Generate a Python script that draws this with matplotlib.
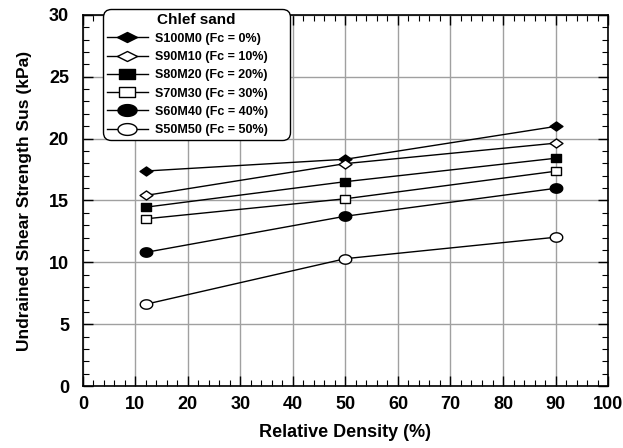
import matplotlib
matplotlib.use("Agg")
import matplotlib.pyplot as plt
import numpy as np
from matplotlib.ticker import MultipleLocator
from matplotlib.path import Path
from matplotlib.lines import Line2D

plt.rcParams['font.family'] = ['Liberation Sans', 'DejaVu Sans']
plt.rcParams['font.weight'] = 'bold'

x = [12, 50, 90]
labels = ["S100M0 (Fc = 0%)", "S90M10 (Fc = 10%)", "S80M20 (Fc = 20%)",
          "S70M30 (Fc = 30%)", "S60M40 (Fc = 40%)", "S50M50 (Fc = 50%)"]
s100m0 = [17.38, 18.33, 20.98]
s90m10 = [15.41, 17.98, 19.63]
s80m20 = [14.46, 16.52, 18.41]
s70m30 = [13.52, 15.14, 17.36]
s60m40 = [10.81, 13.73, 15.98]
s50m50 = [6.62, 10.30, 12.03]
series = [s100m0, s90m10, s80m20, s70m30, s60m40, s50m50]


def diamond(a):
    return Path([(-1, 0), (0, a), (1, 0), (0, -a), (-1, 0)],
                [Path.MOVETO, Path.LINETO, Path.LINETO, Path.LINETO, Path.CLOSEPOLY])


def square(a):
    return Path([(-1, -a), (1, -a), (1, a), (-1, a), (-1, -a)],
                [Path.MOVETO, Path.LINETO, Path.LINETO, Path.LINETO, Path.CLOSEPOLY])


def ellipse(a):
    t = np.linspace(0, 2 * np.pi, 60)
    return Path(np.column_stack([np.cos(t), a * np.sin(t)]))


# plot markers (horizontally stretched as in the source)
markers = [diamond(0.7), diamond(0.7), square(0.72), square(0.72), ellipse(0.75), ellipse(0.75)]
msizes = [9.3, 9.3, 7.9, 7.9, 9.0, 9.0]
# legend markers (larger, flatter)
lmarkers = [diamond(0.5), diamond(0.5), square(0.66), square(0.66), ellipse(0.62), ellipse(0.62)]
lsizes = [14.4, 14.4, 11.5, 11.5, 13.7, 13.7]
fills = ['black', 'white', 'black', 'white', 'black', 'white']

fig = plt.figure(figsize=(6.23, 4.48), dpi=100)
ax = fig.add_axes([0.133, 0.138, 0.843, 0.829])

for ys, lab, m, fc, ms in zip(series, labels, markers, fills, msizes):
    ax.plot(x, ys, color='black', lw=1, marker=m, markerfacecolor=fc,
            markeredgecolor='black', markeredgewidth=1, markersize=ms, label=lab, zorder=3)

ax.set_xlim(0, 100)
ax.set_ylim(0, 30)
ax.xaxis.set_major_locator(MultipleLocator(10))
ax.xaxis.set_minor_locator(MultipleLocator(2))
ax.yaxis.set_major_locator(MultipleLocator(5))
ax.yaxis.set_minor_locator(MultipleLocator(1))
ax.grid(True, which='major', color='#a0a0a0', lw=1, zorder=0)
ax.tick_params(which='both', direction='in', top=True, right=True, labelsize=13)
ax.tick_params(which='major', length=7, width=1)
ax.tick_params(which='minor', length=4, width=0.8)
ax.tick_params(axis='y', which='major', pad=10)
ax.tick_params(axis='x', which='major', pad=7)
for lbl in ax.get_xticklabels() + ax.get_yticklabels():
    lbl.set_fontweight('bold')
for sp in ax.spines.values():
    sp.set_linewidth(1.2)

ax.set_xlabel("Relative Density (%)", fontsize=13, fontweight='bold', labelpad=8)
ax.set_ylabel("Undrained Shear Strength Sus (kPa)", fontsize=12.5, fontweight='bold', labelpad=12)

handles = [Line2D([], [], color='black', lw=1, marker=m, markerfacecolor=fc,
                  markeredgecolor='black', markeredgewidth=1, markersize=ms)
           for m, fc, ms in zip(lmarkers, fills, lsizes)]
leg_w = (290 - 103) / 525.0
leg = ax.legend(handles, labels, loc='upper left',
                bbox_to_anchor=(0.038, 0.5, leg_w, 0.516), mode='expand', borderaxespad=0,
                title="Chlef sand",
                fontsize=9, title_fontproperties={'weight': 'bold', 'size': 11},
                frameon=True, fancybox=True, edgecolor='black', framealpha=1,
                handlelength=3.3, labelspacing=0.5, borderpad=0.3, handletextpad=0.6)
leg.get_frame().set_linewidth(1)
leg.get_frame().set_boxstyle('round,pad=0,rounding_size=0.65')
for tx in leg.get_texts():
    tx.set_fontweight('bold')

fig.savefig("out.png", dpi=100)
